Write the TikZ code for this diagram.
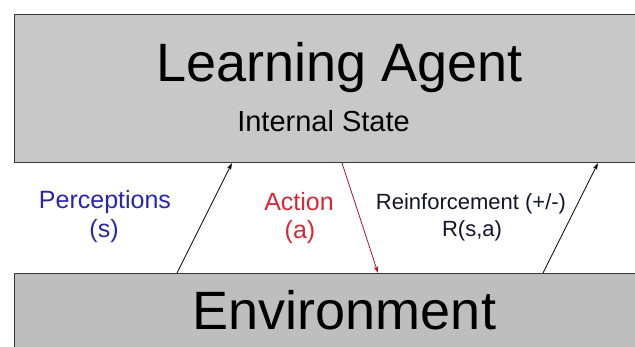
\documentclass[tikz,border=0pt]{standalone}
\usepackage{fontspec}
\setmainfont{Liberation Sans}
\usetikzlibrary{arrows.meta}
\definecolor{agentgray}{RGB}{200,200,200}
\definecolor{envgray}{RGB}{190,190,190}
\definecolor{edgegray}{RGB}{55,55,55}
\definecolor{percblue}{RGB}{40,40,165}
\definecolor{actred}{RGB}{215,40,55}
\definecolor{arrred}{RGB}{175,20,40}
\definecolor{reinfnavy}{RGB}{20,20,45}
\tikzset{
  panel/.style={draw=edgegray, line width=1.4pt, rectangle, inner sep=0pt},
  bigtext/.style={font=\fontsize{54}{60}\selectfont, anchor=base, inner sep=0pt},
  lbl/.style={align=center, anchor=base, inner sep=0pt},
  flow/.style={line width=0.8pt, -{Stealth[length=7pt,width=4.5pt]}},
}
\begin{document}
\begin{tikzpicture}[x=1pt,y=1pt]
\useasboundingbox (0,0) rectangle (635,347);
\clip (0,0) rectangle (635,347);
\fill[white] (0,0) rectangle (635,347);
% boxes
\node[panel, fill=agentgray, minimum width=640pt, minimum height=148pt, anchor=south west] (agent) at (14,184) {};
\node[panel, fill=envgray, minimum width=640pt, minimum height=100pt, anchor=north west] (env) at (14,74) {};
% texts
\node[bigtext] (agtitle) at (339.5,265) {Learning Agent};
\node[font=\fontsize{29}{34}\selectfont, anchor=base, inner sep=0pt] (intstate) at (323.5,215) {Internal State};
\node[bigtext] (envtitle) at (344.5,17) {Environment};
\node[lbl, font=\fontsize{25}{29}\selectfont, text=percblue] (perc1) at (105,138) {Perceptions};
\node[lbl, font=\fontsize{25}{29}\selectfont, text=percblue] (perc2) at (104,109) {(s)};
\node[lbl, font=\fontsize{25}{29}\selectfont, text=actred] (act1) at (299,136) {Action};
\node[lbl, font=\fontsize{25}{29}\selectfont, text=actred] (act2) at (300,108) {(a)};
\node[lbl, font=\fontsize{22}{26}\selectfont, text=reinfnavy] (rf1) at (471,137) {Reinforcement (+/-)};
\node[lbl, font=\fontsize{22}{26}\selectfont, text=reinfnavy] (rf2) at (472,110) {R(s,a)};
% connector ends
\coordinate (pb) at (177,74);
\coordinate (pt) at (232,184);
\coordinate (at) at (342,184);
\coordinate (ab) at (378,74);
\coordinate (rb) at (543,74);
\coordinate (rt) at (598,184);
\draw[flow, black] (pb) -- (pt);
\draw[flow, arrred] (at) -- (ab);
\draw[flow, black] (rb) -- (rt);
\end{tikzpicture}
\end{document}
